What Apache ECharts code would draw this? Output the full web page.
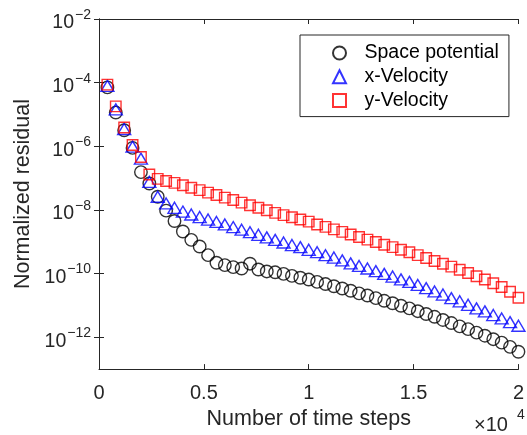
<!DOCTYPE html>
<html>
<head>
<meta charset="utf-8">
<script src="https://cdn.jsdelivr.net/npm/echarts@6/dist/echarts.min.js"></script>
<style>
html,body{margin:0;padding:0;background:#fff;}
#c{width:527px;height:435px;}
</style>
</head>
<body>
<div id="c"></div>
<script>
// Time steps (x values)
const steps = [400,800,1200,1600,2000,2400,2800,3200,3600,4000,4400,4800,5200,5600,6000,6400,6800,7200,7600,8000,
  8400,8800,9200,9600,10000,10400,10800,11200,11600,12000,12400,12800,13200,13600,14000,14400,14800,15200,15600,16000,
  16400,16800,17200,17600,18000,18400,18800,19200,19600,20000];

// Normalized residual values
const spacePotential = [7.1e-5,1.15e-5,3.2e-6,8.9e-7,1.55e-7,6.8e-8,2.6e-8,9.5e-9,4.5e-9,2.1e-9,
  1.15e-9,7.1e-10,3.8e-10,2.2e-10,1.85e-10,1.6e-10,1.45e-10,2.05e-10,1.35e-10,1.17e-10,
  1.1e-10,9.8e-11,8.5e-11,7.4e-11,6.5e-11,5.5e-11,4.7e-11,4.0e-11,3.4e-11,2.9e-11,
  2.4e-11,2.05e-11,1.7e-11,1.4e-11,1.17e-11,9.8e-12,8.1e-12,6.6e-12,5.4e-12,4.4e-12,
  3.5e-12,2.8e-12,2.2e-12,1.8e-12,1.4e-12,1.12e-12,8.7e-13,6.8e-13,5.0e-13,3.5e-13];

const xVelocity = [7.9e-5,1.45e-5,3.5e-6,9.8e-7,4.1e-7,7.6e-8,2.6e-8,1.6e-8,1.17e-8,8.9e-9,
  7.2e-9,6.0e-9,5.0e-9,4.2e-9,3.5e-9,2.9e-9,2.4e-9,2.0e-9,1.66e-9,1.38e-9,
  1.15e-9,9.5e-10,7.9e-10,6.8e-10,5.6e-10,4.7e-10,3.8e-10,3.2e-10,2.6e-10,2.1e-10,
  1.74e-10,1.45e-10,1.2e-10,9.8e-11,8.1e-11,6.6e-11,5.5e-11,4.4e-11,3.5e-11,2.75e-11,
  2.2e-11,1.7e-11,1.35e-11,1.05e-11,8.1e-12,6.5e-12,5.0e-12,3.9e-12,3.0e-12,2.3e-12];

const yVelocity = [8.7e-5,1.8e-5,3.9e-6,1.1e-6,4.6e-7,1.3e-7,9.5e-8,8.1e-8,7.1e-8,6.0e-8,
  5.0e-8,4.2e-8,3.5e-8,2.95e-8,2.45e-8,2.05e-8,1.7e-8,1.41e-8,1.17e-8,9.8e-9,
  8.1e-9,6.9e-9,5.9e-9,5.0e-9,4.3e-9,3.5e-9,2.95e-9,2.45e-9,2.05e-9,1.7e-9,
  1.41e-9,1.17e-9,9.8e-10,8.1e-10,6.8e-10,5.6e-10,4.7e-10,3.8e-10,3.1e-10,2.5e-10,
  2.05e-10,1.66e-10,1.32e-10,1.05e-10,8.3e-11,6.5e-11,5.0e-11,3.8e-11,2.7e-11,1.74e-11];

const seriesNames = ['Space potential','x-Velocity','y-Velocity'];
const yTicks = [1e-12,1e-10,1e-8,1e-6,1e-4,1e-2];
const xTickLabels = {0:'0',5000:'0.5',10000:'1',15000:'1.5',20000:'2'};

const axisColor = '#262626';
const FONT = '"Liberation Sans", Arial, Helvetica, sans-serif';

function pairs(vals){ return steps.map((s,i)=>[s, vals[i]]); }

function yLabel(v){
  const e = Math.round(Math.log10(v));
  return '{b|10}{s|' + (e < 0 ? '\u2212' + (-e) : e) + '}';
}

const chart = echarts.init(document.getElementById('c'), null, {renderer:'canvas'});

const yAxisCommon = {
  type:'log', logBase:10, min:1e-13, max:1e-2,
  axisLine:{show:true, lineStyle:{color:axisColor, width:1}},
  axisTick:{show:true, inside:true, length:5, customValues:yTicks, lineStyle:{color:axisColor}},
  minorTick:{show:false},
  splitLine:{show:false}
};
const xAxisCommon = {
  type:'value', min:0, max:20000, interval:5000,
  axisLine:{show:true, onZero:false, lineStyle:{color:axisColor, width:1}},
  axisTick:{show:true, inside:true, length:5, lineStyle:{color:axisColor}},
  splitLine:{show:false}
};

const option = {
  animation:false,
  backgroundColor:'#fff',
  textStyle:{fontFamily:FONT},
  grid:{left:99, right:2, top:19, bottom:63, containLabel:false},
  xAxis:[
    Object.assign({}, xAxisCommon, {
      position:'bottom',
      name:'Number of time steps', nameLocation:'middle', nameGap:35,
      nameTextStyle:{fontSize:21.5, color:axisColor, fontFamily:FONT},
      axisLabel:{show:true, margin:14, fontSize:20, color:axisColor, fontFamily:FONT,
        formatter:function(v){ return xTickLabels[v] !== undefined ? xTickLabels[v] : ''; }}
    }),
    Object.assign({}, xAxisCommon, {position:'top', axisLabel:{show:false}})
  ],
  yAxis:[
    Object.assign({}, yAxisCommon, {
      position:'left',
      name:'Normalized residual', nameLocation:'middle', nameGap:60,
      nameTextStyle:{fontSize:21.5, color:axisColor, fontFamily:FONT},
      axisLabel:{show:true, margin:8, customValues:yTicks, color:axisColor, fontFamily:FONT,
        formatter:yLabel,
        rich:{
          b:{fontSize:19.5, color:axisColor, fontFamily:FONT, verticalAlign:'bottom'},
          s:{fontSize:14, color:axisColor, fontFamily:FONT, padding:[3,0,11,1]}
        }}
    }),
    Object.assign({}, yAxisCommon, {position:'right', axisLabel:{show:false}})
  ],
  legend:{
    show:true, orient:'vertical', left:300, top:35,
    padding:[8,10,6,30.5], itemGap:3.8,
    itemWidth:13, itemHeight:13,
    backgroundColor:'#fff', borderColor:axisColor, borderWidth:1, borderRadius:0,
    textStyle:{fontSize:19.5, color:'#000', fontFamily:FONT, padding:[0,0,0,13.5]},
    data:seriesNames
  },
  series:[
    {name:seriesNames[0], type:'scatter', data:pairs(spacePotential), symbol:'circle', symbolSize:12.5,
      itemStyle:{color:'none', borderColor:'#000', borderWidth:1.4}, z:2},
    {name:seriesNames[1], type:'scatter', data:pairs(xVelocity), symbol:'triangle', symbolSize:[13,11],
      itemStyle:{color:'none', borderColor:'#0000ff', borderWidth:1.4}, z:3},
    {name:seriesNames[2], type:'scatter', data:pairs(yVelocity), symbol:'rect', symbolSize:10.5,
      itemStyle:{color:'none', borderColor:'#ff0000', borderWidth:1.4}, z:4}
  ],
  graphic:[
    {type:'text', left:474, top:415, style:{text:'×10', font:'20px '+FONT, fill:axisColor}},
    {type:'text', left:517, top:408, style:{text:'4', font:'14px '+FONT, fill:axisColor}}
  ]
};
chart.setOption(option);
</script>
</body>
</html>
